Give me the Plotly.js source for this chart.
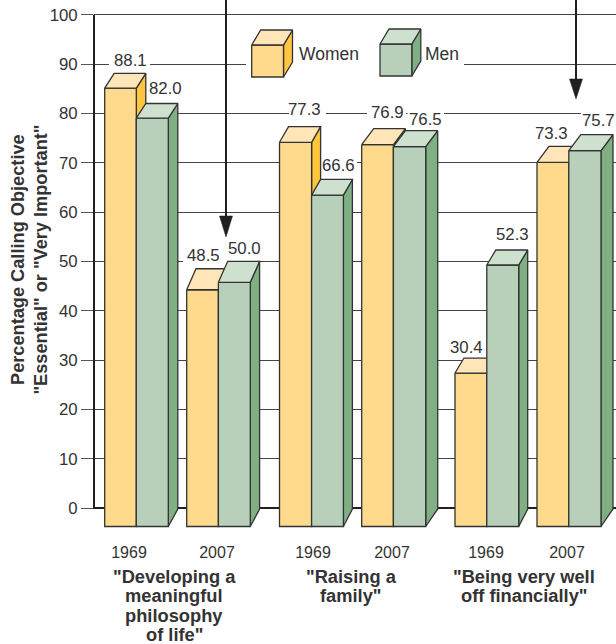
<!DOCTYPE html>
<html>
<head>
<meta charset="utf-8">
<script src="https://cdn.plot.ly/plotly-3.0.1.min.js"></script>
<style>html,body{margin:0;padding:0;background:#fff}</style>
</head>
<body>
<div id="chart" style="width:616px;height:644px"></div>
<script>
// Survey values, percent calling each objective essential or very important
const objectives = [
  ['"Developing a', 'meaningful', 'philosophy', 'of life"'],
  ['"Raising a', 'family"'],
  ['"Being very well', 'off financially"']
];
const years = ['1969', '2007', '1969', '2007', '1969', '2007'];
const women = [88.1, 48.5, 77.3, 76.9, 30.4, 73.3];
const men = [82.0, 50.0, 66.6, 76.5, 52.3, 75.7];
const yTicks = [0, 10, 20, 30, 40, 50, 60, 70, 80, 90, 100];

// Layout geometry, in page pixels
const PLOT = {left: 94, right: 616, top: 0, bottom: 532};
const ZERO_PX = 508, HUNDRED_PX = 14.7;
const UNIT = (ZERO_PX - HUNDRED_PX) / 100;
const pxY = p => (ZERO_PX - p) / UNIT;
const paperY = p => (PLOT.bottom - p) / (PLOT.bottom - PLOT.top);
const pairLeft = [104.7, 186.7, 279.5, 361.7, 455, 537];
const pairMid = [136.3, 218.4, 311.6, 393.4, 486.8, 568.8];
const pairRight = [168.3, 250.3, 343.4, 425.7, 518.7, 601];
const depthX = [9.5, 9.3, 9, 12, 9, 12];
const depthY = [14.7, 21, 15.6, 16, 15, 16];
const yearCentre = [129, 217, 313, 392, 486, 567];
const objectiveCentre = [174, 351, 524];
const objectiveFirstLine = 576, objectiveLeading = 19.5;
const womenLabelPos = [[130, 60], [203, 255], [304, 110], [387, 112], [466, 347], [551, 134]];
const menLabelPos = [[165.5, 88], [244, 248], [338, 165], [425, 119], [512, 235], [598, 120]];

const INK = '#333333';
const TEXT = '#333333';
const FONT = '"Liberation Sans", Arial, sans-serif';
const WOMEN_FACES = {front: '#FFD98C', top: '#FFE5B8', side: '#FFC640'};
const MEN_FACES = {front: '#B8D0BA', top: '#CEE0CE', side: '#80AF84'};

const traces = [];
function face(xs, ys, fill, name) {
  traces.push({
    type: 'scatter', mode: 'lines', x: xs.concat(xs[0]), y: ys.concat(ys[0]),
    fill: 'toself', fillcolor: fill, line: {color: INK, width: 1.3},
    hoverinfo: 'skip', showlegend: false, name: name
  });
}

// A box is three faces: the value sets the height of its rear top edge.
function box(x0, x1, dx, dy, value, colours, name) {
  const front = value - dy / UNIT;
  const base = pxY(526.5);
  face([x1, x1 + dx, x1 + dx, x1], [front, value, -0.2, base], colours.side, name);
  face([x0, x1, x1, x0], [front, front, base, base], colours.front, name);
  face([x0, x0 + dx, x1 + dx, x1], [front, value, value, front], colours.top, name);
}

women.forEach((v, i) => {
  box(pairLeft[i], pairMid[i], depthX[i], depthY[i], v, WOMEN_FACES, 'Women');
  box(pairMid[i], pairRight[i], depthX[i], depthY[i], men[i], MEN_FACES, 'Men');
});

// Key cubes
function keyCube(x0, x1, yTop, yBottom, colours, name) {
  const d = 9, h = 15;
  face([x1, x1 + d, x1 + d, x1], [pxY(yTop), pxY(yTop - h), pxY(yBottom - h), pxY(yBottom)], colours.side, name);
  face([x0, x1, x1, x0], [pxY(yTop), pxY(yTop), pxY(yBottom), pxY(yBottom)], colours.front, name);
  face([x0, x0 + d, x1 + d, x1], [pxY(yTop), pxY(yTop - h), pxY(yTop - h), pxY(yTop)], colours.top, name);
}
keyCube(251.7, 283.5, 45, 77, WOMEN_FACES, 'Women');
keyCube(380, 411.8, 44, 76, MEN_FACES, 'Men');

// Pointer arrows running in from the top edge
function pointer(x, yTip, yNeck) {
  traces.push({type: 'scatter', mode: 'lines', x: [x, x], y: [pxY(0), pxY(yNeck)],
    line: {color: '#231F20', width: 2}, hoverinfo: 'skip', showlegend: false});
  traces.push({type: 'scatter', mode: 'lines', x: [x - 6.5, x + 6.5, x, x - 6.5],
    y: [pxY(yNeck), pxY(yNeck), pxY(yTip), pxY(yNeck)], fill: 'toself', fillcolor: '#231F20',
    line: {color: '#231F20', width: 0.5}, hoverinfo: 'skip', showlegend: false});
}
pointer(226, 237, 216);
pointer(576, 99, 79);

// White breaks in the rules where labels and the key sit
const gaps = [
  [109, 150, 90], [246, 464, 90],
  [289, 326, 80], [367, 406, 80], [407.5, 444, 80], [581, 616, 80],
  [321, 357, 70], [183, 228, 50]
];
const shapes = gaps.map(g => ({
  type: 'rect', layer: 'between', xref: 'x', yref: 'y',
  x0: g[0], x1: g[1], y0: g[2] - 0.6, y1: g[2] + 0.6,
  fillcolor: '#ffffff', line: {width: 0}
}));
// Heavy vertical axis, spanning 0 to 100 only
shapes.push({
  type: 'line', layer: 'above', xref: 'paper', yref: 'y', x0: 0, x1: 0, y0: -0.2, y1: 100,
  line: {color: '#231F20', width: 2}
});

const label = (x, p, text, size, bold) => ({
  x: x, y: paperY(p), xref: 'x', yref: 'paper', text: bold ? '<b>' + text + '</b>' : text,
  showarrow: false, xanchor: 'center', yanchor: 'middle',
  font: {family: FONT, size: size, color: TEXT}
});

const annotations = [];
women.forEach((v, i) => annotations.push(label(womenLabelPos[i][0], womenLabelPos[i][1], v.toFixed(1), 16.8)));
men.forEach((v, i) => annotations.push(label(menLabelPos[i][0], menLabelPos[i][1], v.toFixed(1), 16.8)));
annotations.push(label(329, 54, 'Women', 17.5));
annotations.push(label(442, 54, 'Men', 17.5));
objectives.forEach((lines, i) => lines.forEach((line, j) =>
  annotations.push(label(objectiveCentre[i], objectiveFirstLine + j * objectiveLeading, line, 18.3, true))));

// Two-line axis caption, set in the left margin
const captionLine = (xPx, text) => ({
  xref: 'paper', yref: 'paper', x: (xPx - PLOT.left) / (PLOT.right - PLOT.left), y: paperY(259.5),
  text: '<b>' + text + '</b>', textangle: -90, showarrow: false,
  xanchor: 'center', yanchor: 'middle', font: {family: FONT, size: 18.2, color: TEXT}
});
annotations.push(captionLine(17.5, 'Percentage Calling Objective'));
annotations.push(captionLine(40, '"Essential" or "Very Important"'));

const layout = {
  width: 616, height: 644,
  margin: {l: PLOT.left, r: 0, t: PLOT.top, b: 644 - PLOT.bottom, pad: 0},
  paper_bgcolor: '#ffffff', plot_bgcolor: '#ffffff',
  showlegend: false,
  xaxis: {
    range: [PLOT.left, PLOT.right], showgrid: false, zeroline: false, showline: false,
    tickmode: 'array', tickvals: yearCentre, ticktext: years,
    ticks: '', ticklabelstandoff: 9,
    tickfont: {family: FONT, size: 16, color: TEXT}
  },
  yaxis: {
    range: [pxY(PLOT.bottom), pxY(PLOT.top)], tickmode: 'array', tickvals: yTicks, ticktext: yTicks.map(String),
    showgrid: true, gridcolor: '#444444', gridwidth: 1,
    zeroline: true, zerolinecolor: '#231F20', zerolinewidth: 2,
    showline: false,
    ticks: 'outside', ticklen: 12, tickwidth: 1, tickcolor: '#555555',
    tickfont: {family: FONT, size: 16.8, color: TEXT}
  },
  shapes: shapes,
  annotations: annotations
};

Plotly.newPlot('chart', traces, layout, {displayModeBar: false, staticPlot: true});
</script>
</body>
</html>
